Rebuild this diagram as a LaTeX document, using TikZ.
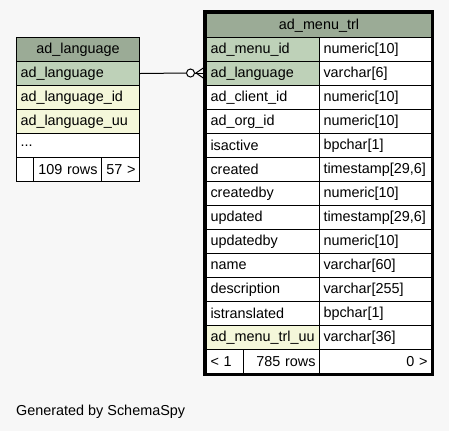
\documentclass[tikz,border=0pt]{standalone}
\usepackage{fontspec}
\setmainfont{Liberation Sans}
\newcommand\fsz{\fontsize{14.4bp}{17bp}\selectfont\hyphenpenalty=10000 \exhyphenpenalty=10000 }
\definecolor{hdr}{HTML}{9BAB96}
\definecolor{pk}{HTML}{BED1B8}
\definecolor{idx}{HTML}{F4F7DA}
\definecolor{pagebg}{HTML}{F7F7F7}
\begin{document}
\begin{tikzpicture}[x=1bp,y=-1bp,
  cell/.style={draw=black, line width=1bp, anchor=north west, minimum height=24bp,
    inner xsep=4bp, inner ysep=0pt, font=\fsz, fill=white, align=left},
  hdrcell/.style={cell, fill=hdr, align=center},
  pkcell/.style={cell, fill=pk},
  idxcell/.style={cell, fill=idx},
  rcell/.style={cell, align=right},
  conn/.style={draw=black, line width=1bp},
  thickframe/.style={draw=black, line width=3bp}
]
\useasboundingbox[fill=pagebg] (0,0) rectangle (449,431);

% ---- left table: ad_language ----
\node[hdrcell, text width=115bp] (lh) at (16,37) {ad\_language};
\node[pkcell, text width=115bp] (l1) at (16,61) {ad\_language};
\node[idxcell, text width=115bp] (l2) at (16,85) {ad\_language\_id};
\node[idxcell, text width=115bp] (l3) at (16,109) {ad\_language\_uu};
\node[cell, text width=115bp] (l4) at (16,133) {...};
\node[cell, text width=9bp] (lf1) at (16,157) {};
\node[rcell, text width=60bp] (lf2) at (33,157) {109 rows};
\node[rcell, text width=30bp] (lf3) at (101,157) {57 >};

% ---- right table: ad_menu_trl ----
\node[hdrcell, text width=217bp] (rh) at (206,13) {ad\_menu\_trl};
\node[pkcell, text width=105bp] (r0) at (206,37) {ad\_menu\_id};
\node[cell, text width=104bp] (t0) at (319,37) {numeric[10]};
\node[pkcell, text width=105bp] (r1) at (206,61) {ad\_language};
\node[cell, text width=104bp] (t1) at (319,61) {varchar[6]};
\node[cell, text width=105bp] (r2) at (206,85) {ad\_client\_id};
\node[cell, text width=104bp] (t2) at (319,85) {numeric[10]};
\node[cell, text width=105bp] (r3) at (206,109) {ad\_org\_id};
\node[cell, text width=104bp] (t3) at (319,109) {numeric[10]};
\node[cell, text width=105bp] (r4) at (206,133) {isactive};
\node[cell, text width=104bp] (t4) at (319,133) {bpchar[1]};
\node[cell, text width=105bp] (r5) at (206,157) {created};
\node[cell, text width=104bp] (t5) at (319,157) {timestamp[29,6]};
\node[cell, text width=105bp] (r6) at (206,181) {createdby};
\node[cell, text width=104bp] (t6) at (319,181) {numeric[10]};
\node[cell, text width=105bp] (r7) at (206,205) {updated};
\node[cell, text width=104bp] (t7) at (319,205) {timestamp[29,6]};
\node[cell, text width=105bp] (r8) at (206,229) {updatedby};
\node[cell, text width=104bp] (t8) at (319,229) {numeric[10]};
\node[cell, text width=105bp] (r9) at (206,253) {name};
\node[cell, text width=104bp] (t9) at (319,253) {varchar[60]};
\node[cell, text width=105bp] (r10) at (206,277) {description};
\node[cell, text width=104bp] (t10) at (319,277) {varchar[255]};
\node[cell, text width=105bp] (r11) at (206,301) {istranslated};
\node[cell, text width=104bp] (t11) at (319,301) {bpchar[1]};
\node[idxcell, text width=105bp] (r12) at (206,325) {ad\_menu\_trl\_uu};
\node[cell, text width=104bp] (t12) at (319,325) {varchar[36]};
\node[cell, text width=29bp] (rf1) at (206,349) {< 1};
\node[rcell, text width=68bp] (rf2) at (243,349) {785 rows};
\node[rcell, text width=104bp] (rf3) at (319,349) {0 >};
\draw[thickframe] (204.5,11.5) rectangle (432.5,374.5);

% ---- connector ----
\node[circle, draw=black, line width=1bp, fill=white, inner sep=0pt, minimum size=8bp] (circ) at (190.5,73) {};
\coordinate (cfv) at (196,73);
\coordinate (cfa) at (204,67.5);
\coordinate (cfb) at (204,73);
\coordinate (cfc) at (204,78.5);
\draw[conn] (l1.east) -- (circ.west);
\draw[conn] (circ.east) -- (cfv);
\draw[conn] (cfa) -- (cfv) -- (cfc);
\draw[conn] (cfv) -- (cfb);

% ---- footer text ----
\node[anchor=base west, inner sep=0pt, font=\fsz] (gen) at (16,415) {Generated by SchemaSpy};
\end{tikzpicture}
\end{document}
